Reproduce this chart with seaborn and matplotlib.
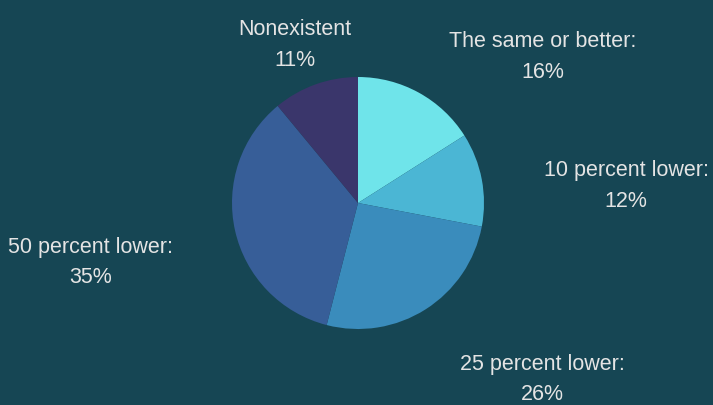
import matplotlib
matplotlib.use('Agg')
import matplotlib.pyplot as plt
import seaborn as sns

# waarden uit de grafiek
categories = ['The same or better:', '10 percent lower:', '25 percent lower:',
              '50 percent lower:', 'Nonexistent']
shares = [16, 12, 26, 35, 11]
colors = ['#6fe4ea', '#4bb6d4', '#3a8cbc', '#375e98', '#3a366b']
bg = '#164654'

sns.set_style('white')
plt.rcParams['font.family'] = ['Liberation Sans', 'DejaVu Sans']

fig = plt.figure(figsize=(7.13, 4.05), dpi=100, facecolor=bg)
ax = fig.add_axes([0, 0, 1, 1])
ax.set_facecolor(bg)

ax.pie(shares, colors=colors, startangle=90, counterclock=False,
       center=(358, 202), radius=126, frame=True,
       wedgeprops={'linewidth': 0})

ax.set_xlim(0, 713)
ax.set_ylim(0, 405)
ax.set_aspect('equal')
ax.axis('off')

# label posities (pixel, y van onder)
label_pos = [(543, 348), (626, 219), (542.5, 25.5), (91, 142.5), (295, 360)]
for cat, val, (x, y) in zip(categories, shares, label_pos):
    ax.text(x, y, f'{cat}\n{val}%', ha='center', va='center',
            color='#e4e4e4', fontsize=15.5, linespacing=1.58)

fig.savefig('out.png', dpi=100, facecolor=bg)
